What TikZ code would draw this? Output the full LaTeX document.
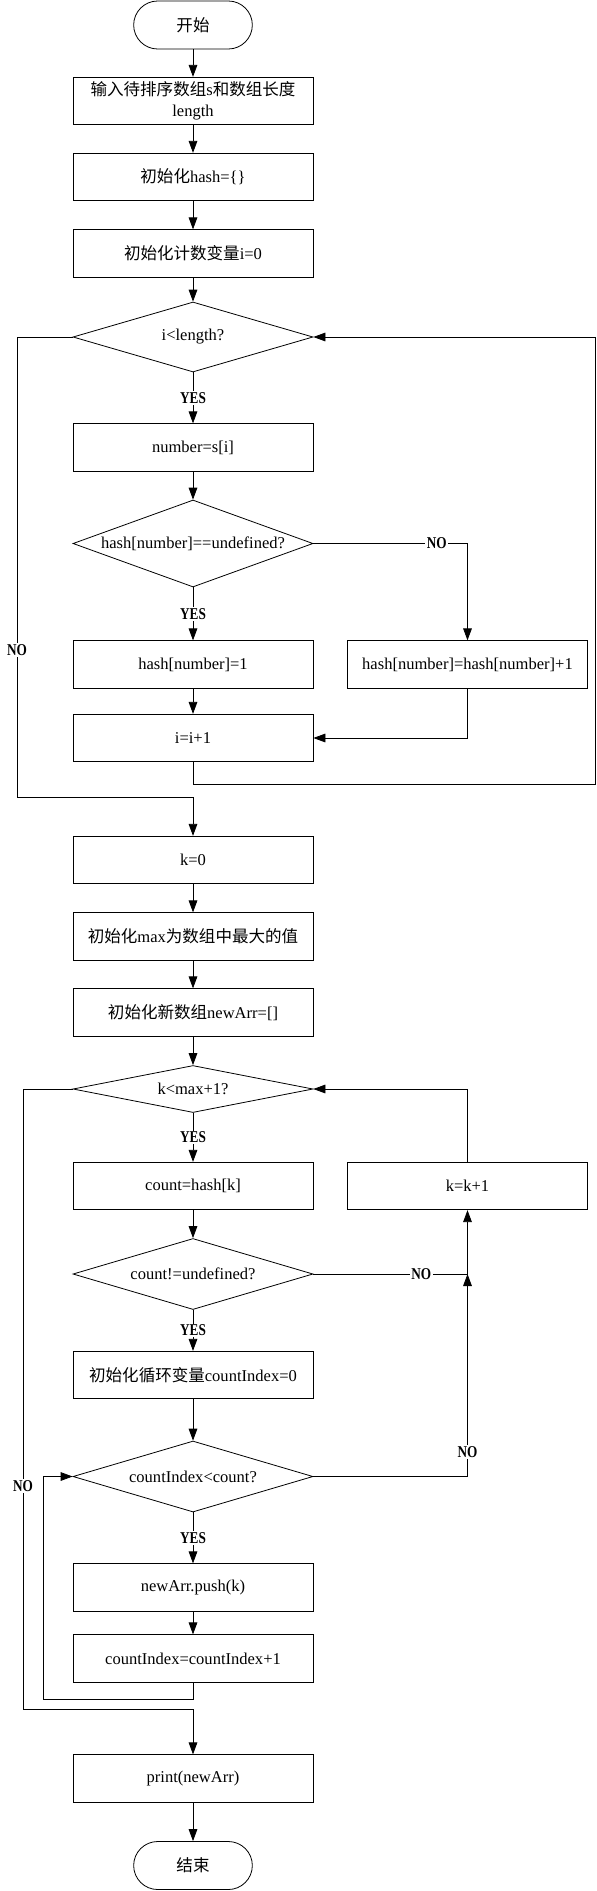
\documentclass[tikz,border=0pt]{standalone}
\usepackage{fontspec}
\setmainfont{Liberation Serif}
\newfontfamily\cjk{Noto Sans CJK SC}
\newfontfamily\lblfont[FakeStretch=0.8]{Liberation Serif}
\usetikzlibrary{arrows.meta, shapes.geometric}

\begin{document}
\begin{tikzpicture}[
    x=0.75pt, y=-0.75pt,
    terminal/.style={rectangle, rounded corners=18pt, draw=black, line width=0.6pt, minimum width=89pt, minimum height=36pt, font=\fontsize{12.4pt}{15.75pt}\selectfont},
    process/.style={rectangle, draw=black, line width=0.6pt, minimum width=180pt, minimum height=35.6pt, align=center, font=\fontsize{12.4pt}{15.75pt}\selectfont},
    decision/.style={diamond, draw=black, line width=0.6pt, inner sep=0pt, aspect=2.76, minimum width=180pt, font=\fontsize{12.4pt}{15.75pt}\selectfont},
    flow/.style={-{Triangle[length=9pt, width=6.5pt]}, line width=0.6pt},
    answer/.style={fill=white, inner sep=1pt, font=\lblfont\bfseries\fontsize{12.4pt}{14pt}\selectfont},
]
\useasboundingbox (0,0) rectangle (596,1891);
% COUNTING
\node[terminal] (start) at (193,25) {{\cjk 开始}};
\node[process] (input) at (193,101) {{\cjk 输入待排序数组}s{\cjk 和数组长度}\\length};
\node[process] (hash) at (193,177) {{\cjk 初始化}hash=\{\}};
\node[process] (iinit) at (193,253.5) {{\cjk 初始化计数变量}i=0};
\node[decision, minimum height=52.5pt] (iloop) at (193,337) {i<length?};
\node[process] (number) at (193,447.5) {number=s[i]};
\node[decision, minimum height=65.25pt] (undef) at (193,543.5) {hash[number]==undefined?};
\node[process] (setone) at (193,664.5) {hash[number]=1};
\node[process] (addone) at (467.5,664.5) {hash[number]=hash[number]+1};
\node[process] (iinc) at (193,738) {i=i+1};
\coordinate (iback) at (595,784);
\coordinate (iexit) at (17,797);
% OUTPUT
\node[process] (kinit) at (193,860) {k=0};
\node[process] (max) at (193,936.5) {{\cjk 初始化}max{\cjk 为数组中最大的值}};
\node[process] (newarr) at (193,1012.5) {{\cjk 初始化新数组}newArr=[]};
\node[decision, minimum height=35.25pt] (kloop) at (193,1089) {k<max+1?};
\node[process] (count) at (193,1186) {count=hash[k]};
\node[process] (kinc) at (467.5,1186) {k=k+1};
\node[decision, minimum height=53.25pt] (defined) at (193,1274) {count!=undefined?};
\node[process] (cinit) at (193,1375) {{\cjk 初始化循环变量}countIndex=0};
\node[decision, minimum height=53.25pt] (cloop) at (193,1476.5) {countIndex<count?};
\node[process] (push) at (193,1587.5) {newArr.push(k)};
\node[process] (cinc) at (193,1658.5) {countIndex=countIndex+1};
\node[process] (print) at (193,1778.5) {print(newArr)};
\node[terminal] (stop) at (193,1865.5) {{\cjk 结束}};
\coordinate (join) at (kinc.south |- defined.east);
\coordinate (cback) at (43,1699);
\coordinate (kexit) at (23,1709);
% Flechas counting
\draw[flow] (start) -- (input);
\draw[flow] (input) -- (hash);
\draw[flow] (hash) -- (iinit);
\draw[flow] (iinit) -- (iloop);
\draw[flow] (iloop) -- node[answer] {YES} (number);
\draw[flow] (number) -- (undef);
\draw[flow] (undef) -- node[answer] {YES} (setone);
\draw[flow] (undef.east) -| node[answer, pos=0.4] {NO} (addone.north);
\draw[flow] (setone) -- (iinc);
\draw[flow] (addone.south) |- (iinc.east);
\draw[flow] (iinc.south) |- (iback) |- (iloop.east);
\draw[flow] (iloop.west) -| node[answer, pos=0.84] {NO} (iexit) -| (kinit.north);
% Flechas output
\draw[flow] (kinit) -- (max);
\draw[flow] (max) -- (newarr);
\draw[flow] (newarr) -- (kloop);
\draw[flow] (kloop) -- node[answer] {YES} (count);
\draw[flow] (count) -- (defined);
\draw[flow] (defined) -- node[answer] {YES} (cinit);
\draw[flow] (cinit) -- (cloop);
\draw[flow] (cloop) -- node[answer] {YES} (push);
\draw[flow] (push) -- (cinc);
\draw[flow] (cinc.south) |- (cback) |- (cloop.west);
\draw[flow] (cloop.east) -| node[answer, pos=0.56] {NO} (join);
\draw[flow] (defined.east) -- node[answer, pos=0.7] {NO} (join) -- (kinc.south);
\draw[flow] (kinc.north) |- (kloop.east);
\draw[flow] (kloop.west) -| node[answer, pos=0.82] {NO} (kexit) -| (print.north);
\draw[flow] (print) -- (stop);
\end{tikzpicture}
\end{document}
